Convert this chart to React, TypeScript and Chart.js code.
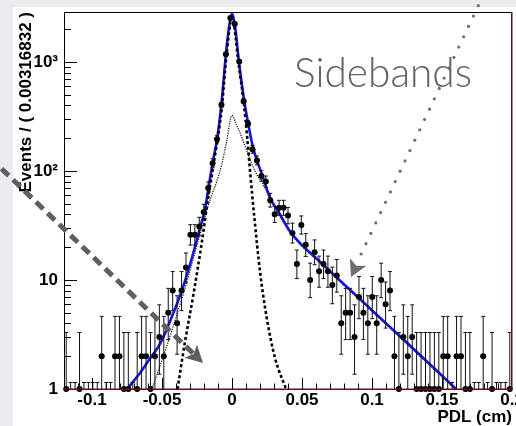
import React, { useEffect, useRef } from "react";
import { Chart, registerables } from "chart.js";

Chart.register(...registerables);

// ---------------- data ----------------
const X_MIN = -0.12;
const X_MAX = 0.2;
const Y_MIN = 1;
const Y_MAX = 2875;

// events per bin (101 bins of 0.00316832 cm)
const BIN_COUNTS = [
  1, 0, 0, 1, 0, 0, 0, 0, 2, 0,
  0, 2, 2, 1, 1, 0, 1, 2, 2, 1,
  2, 3, 2, 5, 8, 4, 8, 13, 26, 26,
  31, 42, 70, 118, 196, 405, 1180, 2530, 2230, 1010,
  437, 272, 158, 125, 90, 80, 54, 40, 46, 46,
  39, 27, 14, 32, 21, 10, 18, 12, 14, 12,
  9, 11, 4, 5, 5, 3, 7, 5, 4, 7,
  4, 10, 6, 8, 2, 1, 3, 2, 3, 1,
  1, 1, 1, 1, 1, 2, 2, 0, 2, 2,
  1, 1, 0, 0, 2, 0, 1, 0, 0, 0,
  1,
];

const X_TICKS = [-0.1, -0.05, 0, 0.05, 0.1, 0.15, 0.2];
const X_TICK_LABELS = ["-0.1", "-0.05", "0", "0.05", "0.1", "0.15", "0.2"];
const Y_TICKS = [1, 10, 100, 1000];
const Y_TICK_LABELS = ["1", "10", "10\u00B2", "10\u00B3"];

// total fit (blue)
const TOTAL_X = [-0.075, -0.0657, -0.0586, -0.0514, -0.0421, -0.0357, -0.0286, -0.0229, -0.0193, -0.0168, -0.0139, -0.0107, -0.0075, -0.0043, -0.0021, 0.0, 0.0021, 0.005, 0.0086, 0.0114, 0.015, 0.0214, 0.0271, 0.0343, 0.0414, 0.0486, 0.0629, 0.0771, 0.0914, 0.1057, 0.12, 0.1343, 0.1486, 0.16];
const TOTAL_Y = [1.0, 1.4, 1.9, 2.6, 4.9, 8.1, 16, 30, 45, 70, 118, 195, 420, 1200, 2100, 2800, 2150, 1000, 450, 280, 165, 93, 57, 40, 28, 21.8, 14.7, 9.9, 6.7, 4.5, 3.05, 2.05, 1.38, 1.0];

// narrow component (black dashed)
const NARROW_X = [-0.0389, -0.0336, -0.0276, -0.0216, -0.0169, -0.0121, -0.0073, -0.0041, 0.0, 0.005, 0.0086, 0.0107, 0.0129, 0.0159, 0.02, 0.0248, 0.0307, 0.0386];
const NARROW_Y = [1.0, 2.7, 7.3, 22, 58, 140, 380, 1100, 2550, 900, 400, 214, 100, 38, 12, 4.5, 1.93, 1.0];

// wide component (dotted)
const WIDE_X = [-0.0571, -0.0431, -0.0329, -0.0216, -0.0181, -0.0145, -0.0109, -0.0074, -0.0038, 0.0, 0.0029, 0.0057, 0.0093, 0.0129, 0.0164, 0.0236, 0.0307, 0.0414, 0.0486, 0.0629, 0.0771, 0.0914, 0.1057, 0.12, 0.1343, 0.1486, 0.16];
const WIDE_Y = [1.0, 3.4, 9.0, 30, 43, 60, 80, 114, 187, 324, 270, 225, 170, 128, 100, 70, 46, 27.3, 21.3, 14.4, 9.7, 6.55, 4.4, 2.98, 2.0, 1.35, 0.98];

// ---------------- helpers ----------------
const BIN_WIDTH = (X_MAX - X_MIN) / BIN_COUNTS.length;
const binCenter = (i: number) => X_MIN + (i + 0.5) * BIN_WIDTH;

function poisCdf(n: number, mu: number): number {
  if (n < 0) return 0;
  if (mu <= 0) return 1;
  const lmu = Math.log(mu);
  let lf = 0;
  let maxL = -Infinity;
  const ls: number[] = [];
  for (let k = 0; k <= n; k++) {
    if (k > 0) lf += Math.log(k);
    const l = -mu + k * lmu - lf;
    ls.push(l);
    if (l > maxL) maxL = l;
  }
  let s = 0;
  for (const l of ls) s += Math.exp(l - maxL);
  return Math.min(1, Math.exp(maxL) * s);
}

function solveDecreasing(f: (m: number) => number, target: number, lo: number, hi: number) {
  for (let it = 0; it < 60; it++) {
    const mid = 0.5 * (lo + hi);
    if (f(mid) > target) lo = mid;
    else hi = mid;
  }
  return 0.5 * (lo + hi);
}

function poissonInterval(n: number): [number, number] {
  if (n === 0) return [0, 1.1479];
  const a = 0.158655;
  const s = Math.sqrt(n);
  const up = solveDecreasing((m) => poisCdf(n, m), a, n, n + 6 * s + 6);
  const lo = solveDecreasing((m) => poisCdf(n - 1, m), 1 - a, Math.max(0, n - 6 * s - 2), n);
  return [lo, up];
}

const ERRORS = BIN_COUNTS.map((n) => poissonInterval(n));

const zip = (xs: number[], ys: number[]) => xs.map((x, i) => ({ x, y: ys[i] }));

const FONT = '"Liberation Sans", Arial, Helvetica, sans-serif';

// ---------------- plugin ----------------
const rootPlugin = {
  id: "rootStyle",
  beforeDraw(chart: any) {
    const ctx = chart.ctx;
    const { width, height } = chart;
    ctx.save();
    ctx.fillStyle = "#e9ebee";
    ctx.fillRect(0, 0, width, height);
    ctx.fillStyle = "#ffffff";
    ctx.fillRect(13, 7, width - 13, height - 7);
    ctx.restore();
  },
  afterDatasetsDraw(chart: any) {
    const ctx = chart.ctx;
    const xs = chart.scales.x;
    const ys = chart.scales.y;
    const a = chart.chartArea;
    ctx.save();
    ctx.beginPath();
    ctx.rect(a.left, a.top - 1, a.right - a.left, a.bottom - a.top + 1);
    ctx.clip();
    ctx.strokeStyle = "#111";
    ctx.lineWidth = 1;
    BIN_COUNTS.forEach((n, i) => {
      const [lo, hi] = ERRORS[i];
      const px = xs.getPixelForValue(binCenter(i));
      const yTop = ys.getPixelForValue(hi);
      const yBot = lo >= 1e-3 ? ys.getPixelForValue(lo) : a.bottom + 10;
      ctx.beginPath();
      ctx.moveTo(px, yBot);
      ctx.lineTo(px, yTop);
      ctx.moveTo(px - 2, yTop);
      ctx.lineTo(px + 2, yTop);
      if (lo >= 1e-3) {
        ctx.moveTo(px - 2, yBot);
        ctx.lineTo(px + 2, yBot);
      }
      ctx.stroke();
    });
    ctx.restore();
  },
  afterDraw(chart: any) {
    const ctx = chart.ctx;
    const xs = chart.scales.x;
    const ys = chart.scales.y;
    const a = chart.chartArea;
    ctx.save();
    // ticks x
    ctx.strokeStyle = "#000";
    ctx.lineWidth = 1;
    ctx.beginPath();
    for (let k = -11; k < 20; k++) {
      const v = k / 100;
      const px = Math.round(xs.getPixelForValue(v)) + 0.5;
      const len = k % 5 === 0 ? 11 : 5.5;
      ctx.moveTo(px, a.bottom);
      ctx.lineTo(px, a.bottom - len);
    }
    // ticks y
    for (let d = 1; d <= 1000; d *= 10) {
      for (let m = 1; m <= 9; m++) {
        const v = d * m;
        if (v <= Y_MIN || v > Y_MAX) continue;
        const py = Math.round(ys.getPixelForValue(v)) + 0.5;
        const len = m === 1 ? 13 : 7;
        ctx.moveTo(a.left, py);
        ctx.lineTo(a.left + len, py);
      }
    }
    ctx.stroke();
    // frame
    ctx.beginPath();
    ctx.moveTo(a.left, a.top + 0.5);
    ctx.lineTo(a.right, a.top + 0.5);
    ctx.moveTo(a.left + 0.5, a.top);
    ctx.lineTo(a.left + 0.5, a.bottom);
    ctx.stroke();
    ctx.strokeStyle = "#5c1414";
    ctx.lineWidth = 1.5;
    ctx.beginPath();
    ctx.moveTo(a.left, a.bottom + 0.25);
    ctx.lineTo(a.right, a.bottom + 0.25);
    ctx.moveTo(a.right - 0.25, a.top);
    ctx.lineTo(a.right - 0.25, a.bottom);
    ctx.stroke();

    // "Sidebands" annotation text
    ctx.font = '300 41px Lato, "Open Sans", sans-serif';
    const w = ctx.measureText("Sidebands").width;
    ctx.save();
    ctx.translate(294, 87);
    ctx.scale(178 / w, 1);
    ctx.fillStyle = "#626262";
    ctx.textBaseline = "alphabetic";
    ctx.textAlign = "left";
    ctx.fillText("Sidebands", 0, 0);
    ctx.restore();

    // dotted arrow (top right)
    const ux = -0.4269, uy = 0.9043;
    ctx.fillStyle = "#6e6e6e";
    for (let k = -1; k <= 24; k++) {
      const cx = 478.3 + k * 11.44 * ux;
      const cy = 5.7 + k * 11.44 * uy;
      ctx.beginPath();
      ctx.arc(cx, cy, 1.6, 0, Math.PI * 2);
      ctx.fill();
    }
    {
      const tx = 351, ty = 277;
      const bx = tx - 16.5 * ux, by = ty - 16.5 * uy;
      const nx = uy, ny = -ux;
      const hw = 9;
      ctx.beginPath();
      ctx.moveTo(tx, ty);
      ctx.lineTo(bx + hw * nx, by + hw * ny);
      ctx.lineTo(bx + 4 * ux, by + 4 * uy);
      ctx.lineTo(bx - hw * nx, by - hw * ny);
      ctx.closePath();
      ctx.fill();
    }

    // dashed arrow (left)
    {
      const vx = 0.7207, vy = 0.6933;
      const tx = 203, ty = 363;
      const bx = tx - 17 * vx, by = ty - 17 * vy;
      const nx = vy, ny = -vx;
      const hw = 9;
      ctx.strokeStyle = "#5f5f5f";
      ctx.fillStyle = "#5f5f5f";
      ctx.lineWidth = 5;
      ctx.setLineDash([10, 6]);
      ctx.beginPath();
      ctx.moveTo(-10, 157.6);
      ctx.lineTo(bx + 3 * vx, by + 3 * vy);
      ctx.stroke();
      ctx.setLineDash([]);
      ctx.beginPath();
      ctx.moveTo(tx, ty);
      ctx.lineTo(bx + hw * nx, by + hw * ny);
      ctx.lineTo(bx + 4 * vx, by + 4 * vy);
      ctx.lineTo(bx - hw * nx, by - hw * ny);
      ctx.closePath();
      ctx.fill();
    }
    ctx.restore();
  },
};

// ---------------- component ----------------
export default function App() {
  const ref = useRef<HTMLCanvasElement | null>(null);

  useEffect(() => {
    if (!ref.current) return;
    const points = BIN_COUNTS.map((c, i) => ({ x: binCenter(i), y: c })).filter((p) => p.y > 0);
    const tickFont = { family: FONT, size: 17, weight: "bold" as const };
    const chart = new Chart(ref.current, {
      type: "line",
      data: {
        datasets: [
          {
            label: "data",
            data: points,
            showLine: false,
            pointRadius: 3,
            pointBorderWidth: 0,
            pointBackgroundColor: "#000",
            borderColor: "#000",
            order: 0,
            clip: false as any,
          },
          {
            label: "narrow",
            data: zip(NARROW_X, NARROW_Y),
            borderColor: "#000",
            borderWidth: 2.6,
            borderDash: [3, 2.5],
            pointRadius: 0,
            cubicInterpolationMode: "monotone",
            order: 1,
          },
          {
            label: "total",
            data: zip(TOTAL_X, TOTAL_Y),
            borderColor: "#1515e0",
            borderWidth: 2.6,
            pointRadius: 0,
            cubicInterpolationMode: "monotone",
            order: 2,
          },
          {
            label: "wide",
            data: zip(WIDE_X, WIDE_Y),
            borderColor: "#1a1a1a",
            borderWidth: 1.3,
            borderDash: [1.2, 1.2],
            pointRadius: 0,
            cubicInterpolationMode: "monotone",
            order: 3,
          },
        ],
      },
      options: {
        responsive: false,
        maintainAspectRatio: false,
        animation: false,
        devicePixelRatio: 1,
        events: [],
        layout: { padding: { left: 0, right: 4, top: 12, bottom: 0 }, autoPadding: false } as any,
        plugins: { legend: { display: false }, tooltip: { enabled: false }, title: { display: false } },
        scales: {
          x: {
            type: "linear",
            min: X_MIN,
            max: X_MAX,
            afterBuildTicks: (s: any) => {
              s.ticks = X_TICKS.map((v) => ({ value: v }));
            },
            afterFit: (s: any) => {
              s.height = 37;
              s.paddingLeft = 0;
              s.paddingRight = 0;
            },
            grid: { display: false, drawTicks: false },
            border: { display: false },
            ticks: {
              autoSkip: false,
              maxRotation: 0,
              minRotation: 0,
              padding: 1,
              color: "#000",
              font: tickFont,
              callback: (v: any) => {
                const i = X_TICKS.findIndex((t) => Math.abs(t - Number(v)) < 1e-9);
                return i >= 0 ? X_TICK_LABELS[i] : "";
              },
            },
            title: {
              display: true,
              text: "PDL (cm)",
              align: "end",
              color: "#000",
              font: { family: FONT, size: 17, weight: "bold", lineHeight: 1 },
              padding: { top: 0, bottom: 0 },
            },
          },
          y: {
            type: "logarithmic",
            min: Y_MIN,
            max: Y_MAX,
            afterBuildTicks: (s: any) => {
              s.ticks = Y_TICKS.map((v) => ({ value: v }));
            },
            afterFit: (s: any) => {
              s.width = 64;
              s.paddingTop = 0;
              s.paddingBottom = 0;
            },
            grid: { display: false, drawTicks: false },
            border: { display: false },
            ticks: {
              autoSkip: false,
              padding: 6,
              color: "#000",
              font: tickFont,
              callback: (v: any) => {
                const i = Y_TICKS.indexOf(Number(v));
                return i >= 0 ? Y_TICK_LABELS[i] : "";
              },
            },
            title: {
              display: true,
              text: "Events / ( 0.00316832 )",
              align: "end",
              color: "#000",
              font: { family: FONT, size: 17, weight: "bold" },
              padding: { top: 16, bottom: 0 },
            },
          },
        },
      } as any,
      plugins: [rootPlugin as any],
    });
    return () => chart.destroy();
  }, []);

  return (
    <div style={{ position: "fixed", left: 0, top: 0, width: 516, height: 426 }}>
      <canvas ref={ref} width={516} height={426} style={{ display: "block" }} />
    </div>
  );
}
